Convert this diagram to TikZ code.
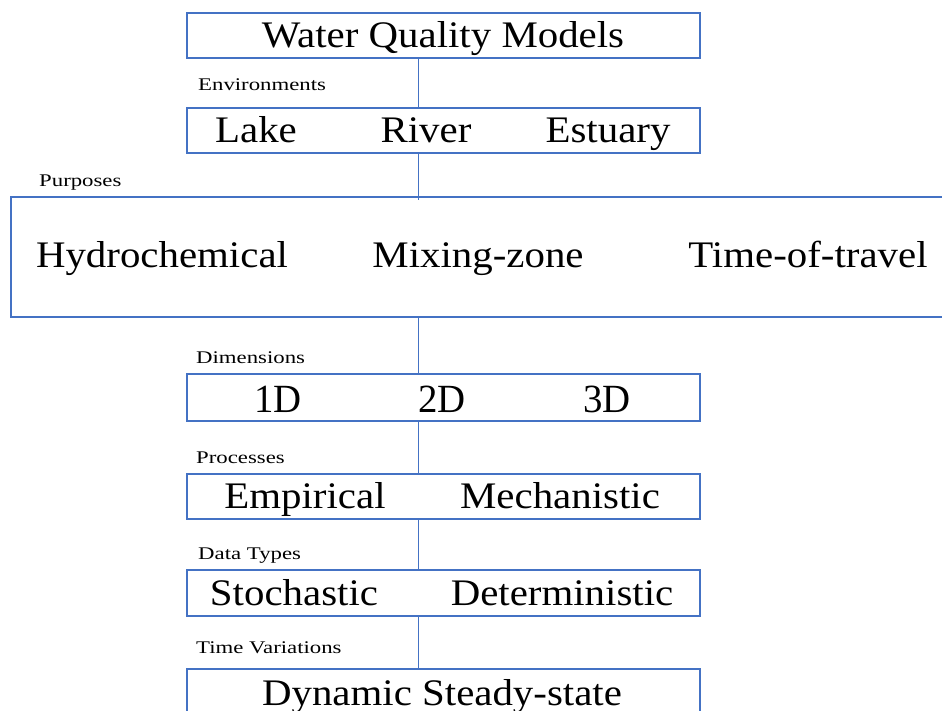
\documentclass[tikz,border=0pt]{standalone}
\usepackage{fontspec}
\setmainfont{Liberation Serif}
% three widths of the same serif face
\newfontfamily\boxfont{Liberation Serif}[FakeStretch=1.09]
\newfontfamily\tagfont{Liberation Serif}[FakeStretch=1.28]
\newfontfamily\dimfont{Liberation Serif}[FakeStretch=0.97]
\definecolor{boxblue}{HTML}{4472C4}
\begin{document}
\begin{tikzpicture}[x=1pt,y=-1pt,
  box/.style={draw=boxblue,line width=1.6pt,inner sep=0pt,anchor=north west},
  big/.style={anchor=base,inner sep=0pt,font=\boxfont\fontsize{37.5}{42}\selectfont},
  bigdim/.style={anchor=base,inner sep=0pt,font=\dimfont\fontsize{40}{44}\selectfont},
  tag/.style={anchor=base west,inner sep=0pt,font=\tagfont\fontsize{17.8}{21}\selectfont},
  link/.style={draw=boxblue,line width=0.9pt}]
\useasboundingbox (0,0) rectangle (942,711);
\clip (0,0) rectangle (942,711);

% vertical spine of the hierarchy
\coordinate (spine) at (418,0);

% level boxes
\node[box,minimum width=513pt,minimum height=45pt] (models) at (186,12) {};
\node[box,minimum width=513pt,minimum height=45pt] (envs) at (186,107) {};
\node[box,minimum width=945pt,minimum height=120pt] (purp) at (10,196) {};
\node[box,minimum width=513pt,minimum height=47pt] (dims) at (186,373) {};
\node[box,minimum width=513pt,minimum height=45pt] (proc) at (186,473) {};
\node[box,minimum width=513pt,minimum height=46pt] (data) at (186,569) {};
\node[box,minimum width=513pt,minimum height=60pt] (time) at (186,668) {};

% connectors
\draw[link] (models.south -| spine) -- (envs.north -| spine);
\draw[link] (envs.south -| spine) -- ([yshift=-4pt]purp.north -| spine);
\draw[link] (purp.south -| spine) -- (dims.north -| spine);
\draw[link] (dims.south -| spine) -- (proc.north -| spine);
\draw[link] (proc.south -| spine) -- (data.north -| spine);
\draw[link] (data.south -| spine) -- (time.north -| spine);

% category labels
\node[tag] (tenv) at (198,91) {Environments};
\node[tag] (tpur) at (39,187) {Purposes};
\node[tag] (tdim) at (196,363) {Dimensions};
\node[tag] (tpro) at (196,463) {Processes};
\node[tag] (tdat) at (198,559) {Data Types};
\node[tag] (ttim) at (196,653) {Time Variations};

% box contents
\node[big] (title) at (443,48) {Water Quality Models};
\node[big] (lake) at (256,143) {Lake};
\node[big] (river) at (426,143) {River};
\node[big] (estuary) at (608,143) {Estuary};
\node[big] (hydro) at (162,268) {Hydrochemical};
\node[big] (mixing) at (478,268) {Mixing-zone};
\node[big] (travel) at (808,268) {Time-of-travel};
\node[bigdim] (d1) at (278,412) {1D};
\node[bigdim] (d2) at (442,412) {2D};
\node[bigdim] (d3) at (607,412) {3D};
\node[big] (emp) at (305,508) {Empirical};
\node[big] (mech) at (560,508) {Mechanistic};
\node[big] (stoch) at (294,605) {Stochastic};
\node[big] (det) at (562,605) {Deterministic};
\node[big] (dyn) at (442,705) {Dynamic Steady-state};
\end{tikzpicture}
\end{document}
